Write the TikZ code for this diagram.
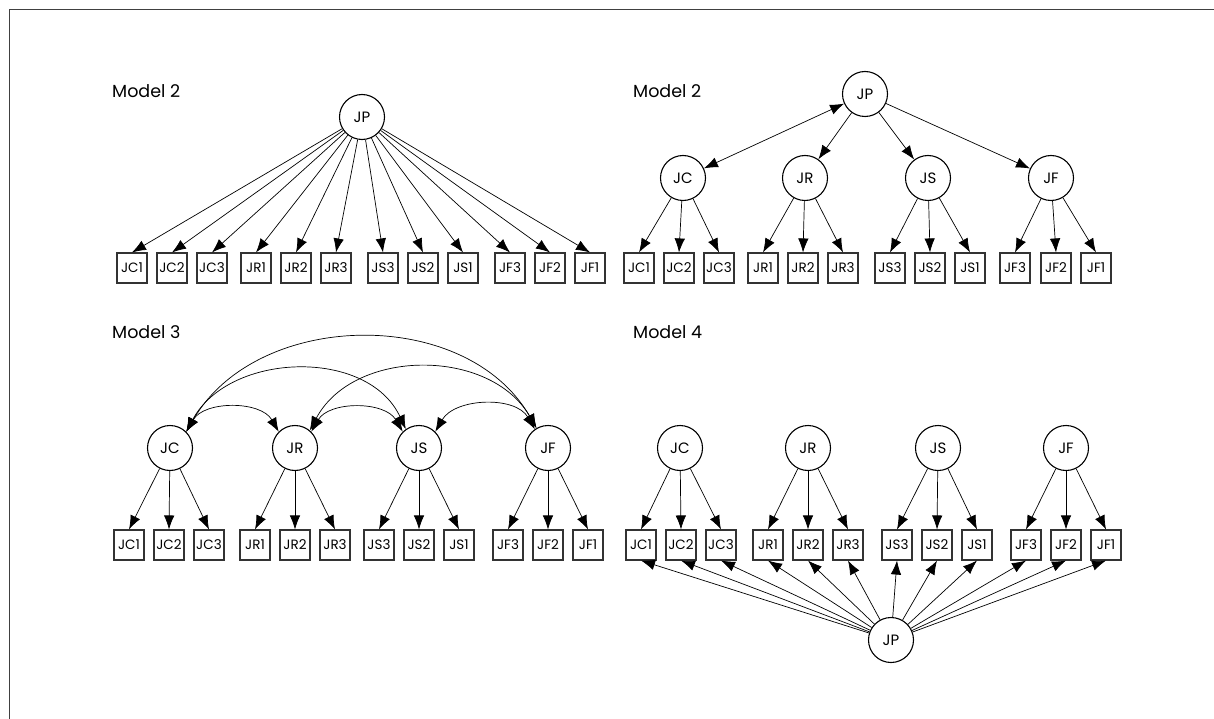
\documentclass[tikz,border=0pt]{standalone}
\usepackage{fontspec}
\setmainfont{Poppins}
\usetikzlibrary{arrows.meta, positioning}

\begin{document}
\begin{tikzpicture}[x=1pt, y=-1pt, >={Latex[length=14pt, width=10.5pt]}]
    % Define styles
    \tikzstyle{obs}=[draw=black!80, line width=1.1pt, rectangle, minimum width=30pt, minimum height=30pt, inner sep=0pt, font=\fontsize{13.5}{14}\selectfont]
    \tikzstyle{lat}=[draw, line width=1.1pt, circle, minimum size=45pt, inner sep=0pt, font=\fontsize{15}{16}\selectfont]
    \tikzstyle{load}=[->, line width=0.7pt]
    \tikzstyle{cov}=[<->, line width=0.7pt]
    \tikzstyle{title}=[anchor=base west, inner sep=0pt, font=\fontsize{17.5}{18}\selectfont]

    \useasboundingbox (0,0) rectangle (1214,719);
    % Frame (top and left edges only)
    \draw[line width=1.5pt, black!75] (1214,9.5) -- (9.5,9.5) -- (9.5,719);

    % Top left - one general factor
    \node[title] (tlTitle) at (112,98) {Model 2};
    \node[lat] (tlJP) at (362,117) {JP};
    \foreach \n/\x in {JC1/132, JC2/172, JC3/212, JR1/256, JR2/296, JR3/336, JS3/383, JS2/423, JS1/463, JF3/510, JF2/550, JF1/590} {
        \node[obs] (tl\n) at (\x,268) {\n};
        \draw[load] (tlJP) -- (tl\n.north);
    }

    % Top right - higher order factor
    \node[title] (trTitle) at (633,98) {Model 2};
    \node[lat] (trJP) at (865,94) {JP};
    \foreach \f/\x in {JC/683, JR/805, JS/928, JF/1051} {
        \node[lat] (tr\f) at (\x,178) {\f};
    }
    \draw[cov] (trJP) -- (trJC);
    \foreach \f in {JR, JS, JF} {
        \draw[load] (trJP) -- (tr\f);
    }
    \foreach \n/\x/\f in {JC1/639/JC, JC2/679/JC, JC3/719/JC, JR1/763/JR, JR2/803/JR, JR3/843/JR, JS3/890/JS, JS2/930/JS, JS1/970/JS, JF3/1015/JF, JF2/1056/JF, JF1/1096/JF} {
        \node[obs] (tr\n) at (\x,268) {\n};
        \draw[load] (tr\f) -- (tr\n.north);
    }

    % Bottom left - correlated factors
    \node[title] (blTitle) at (112,338) {Model 3};
    \foreach \f/\x in {JC/170, JR/295, JS/419, JF/548} {
        \node[lat] (bl\f) at (\x,448) {\f};
    }
    \foreach \n/\x/\f in {JC1/129/JC, JC2/169/JC, JC3/209/JC, JR1/255/JR, JR2/295/JR, JR3/335/JR, JS3/379/JS, JS2/419/JS, JS1/459/JS, JF3/508/JF, JF2/548/JF, JF1/588/JF} {
        \node[obs] (bl\n) at (\x,545) {\n};
        \draw[load] (bl\f) -- (bl\n.north);
    }
    % covariances between the four factors
    \draw[cov] (blJC.45) to[out=60, in=120] (blJR.135);
    \draw[cov] (blJC.45) to[out=62, in=115, looseness=1.05] (blJS.125);
    \draw[cov] (blJC.45) to[out=60, in=120, looseness=1.03] (blJF.120);
    \draw[cov] (blJR.45) to[out=60, in=120] (blJS.135);
    \draw[cov] (blJR.50) to[out=62, in=120, looseness=1.05] (blJF.120);
    \draw[cov] (blJS.45) to[out=60, in=120] (blJF.125);

    % Bottom right - bifactor
    \node[title] (brTitle) at (633,338) {Model 4};
    \foreach \f/\x in {JC/680, JR/808, JS/938, JF/1066} {
        \node[lat] (br\f) at (\x,448) {\f};
    }
    \node[lat] (brJP) at (891,640) {JP};
    \foreach \n/\x/\f in {JC1/641/JC, JC2/681/JC, JC3/721/JC, JR1/768/JR, JR2/808/JR, JR3/848/JR, JS3/897/JS, JS2/937/JS, JS1/977/JS, JF3/1026/JF, JF2/1066/JF, JF1/1106/JF} {
        \node[obs] (br\n) at (\x,545) {\n};
        \draw[load] (br\f) -- (br\n.north);
        \draw[load] (brJP) -- (br\n.south);
    }
\end{tikzpicture}
\end{document}
